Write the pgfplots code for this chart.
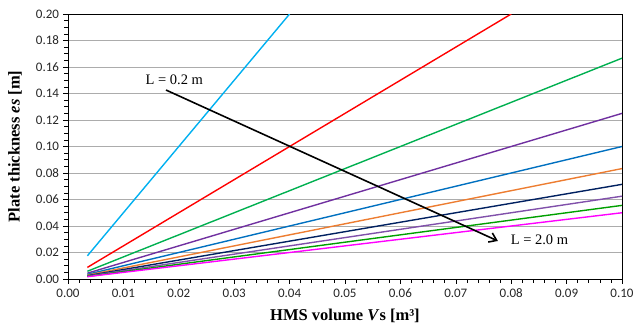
\documentclass[border=0pt]{standalone}
\usepackage{pgfplots}
\pgfplotsset{compat=1.18}
\usetikzlibrary{arrows.meta}
\usepackage{fontspec}
\setmainfont{Liberation Serif}
\newfontfamily\tickfont{Carlito}
\definecolor{ccyan}{RGB}{0,176,240}
\definecolor{cred}{RGB}{255,0,0}
\definecolor{cgreen}{RGB}{0,176,80}
\definecolor{cpurple}{RGB}{112,48,160}
\definecolor{cblue}{RGB}{0,112,192}
\definecolor{corange}{RGB}{237,125,49}
\definecolor{cnavy}{RGB}{0,32,96}
\definecolor{cpurple2}{RGB}{128,80,170}
\definecolor{cgreen2}{RGB}{0,160,0}
\definecolor{cmag}{RGB}{255,0,255}
\begin{document}
\begin{tikzpicture}
\begin{axis}[
  scale only axis,
  width=554bp, height=265bp,
  xmin=0, xmax=0.1, ymin=0, ymax=0.2,
  xtick={0,0.01,...,0.1001}, ytick={0,0.02,...,0.2001},
  minor x tick num=4, minor y tick num=3,
  /pgf/number format/fixed,
  /pgf/number format/fixed zerofill,
  /pgf/number format/precision=2,
  /pgf/number format/assume math mode=true,
  ticklabel style={font=\tickfont\fontsize{13bp}{15bp}\selectfont, text=black!85},
  xticklabel style={yshift=-2bp},
  yticklabel style={xshift=-1bp},
  scaled ticks=false,
  ymajorgrids, major grid style={gray!65, line width=0.8pt},
  axis line style={black, line width=1pt},
  major tick length=4.5bp, minor tick length=3.5bp,
  tick style={black, line width=0.6pt},
  major tick style={/pgfplots/tick align=outside},
  minor tick style={/pgfplots/tick align=inside},
  xtick pos=bottom, ytick pos=left,
  xlabel={\bfseries HMS volume \textit{V}s [m³]},
  ylabel={\bfseries Plate thickness \textit{es} [m]},
  every axis x label/.style={at={(axis description cs:0.5,0)}, anchor=center, yshift=-37bp, font=\fontsize{16.5bp}{18bp}\selectfont},
  every axis y label/.style={at={(axis description cs:0,0.5)}, anchor=center, rotate=90, yshift=53bp, font=\fontsize{16.5bp}{18bp}\selectfont},
  every axis plot/.append style={line width=1.4pt},
  clip=true,
]
\addplot[ccyan] coordinates {(0.0035,0.0175) (0.04,0.2)};
\addplot[cred] coordinates {(0.0035,0.00875) (0.08,0.2)};
\addplot[cgreen] coordinates {(0.0035,0.005833) (0.1,0.16667)};
\addplot[cpurple] coordinates {(0.0035,0.004375) (0.1,0.125)};
\addplot[cblue] coordinates {(0.0035,0.0035) (0.1,0.1)};
\addplot[corange] coordinates {(0.0035,0.002917) (0.1,0.08333)};
\addplot[cnavy] coordinates {(0.0035,0.0025) (0.1,0.071429)};
\addplot[cpurple2] coordinates {(0.0035,0.0021875) (0.1,0.0625)};
\addplot[cgreen2] coordinates {(0.0035,0.001944) (0.1,0.055556)};
\addplot[cmag] coordinates {(0.0035,0.00175) (0.1,0.05)};
\draw[-{Straight Barb[length=7bp,width=10bp]}, line width=1.6pt, black] (axis cs:0.0177,0.1426) -- (axis cs:0.0776,0.0287);
\node[font=\fontsize{14.5bp}{16bp}\selectfont, anchor=center] at (axis cs:0.0192,0.1505) {L = 0.2 m};
\node[font=\fontsize{14.5bp}{16bp}\selectfont, anchor=west] at (axis cs:0.0793,0.0293) {L = 2.0 m};
\coordinate (sw) at (rel axis cs:0,0);
\coordinate (ne) at (rel axis cs:1,1);
\end{axis}
\pgfresetboundingbox
\path ([shift={(-68bp,-47bp)}]sw) rectangle ([shift={(13bp,14bp)}]ne);
\end{tikzpicture}
\end{document}
